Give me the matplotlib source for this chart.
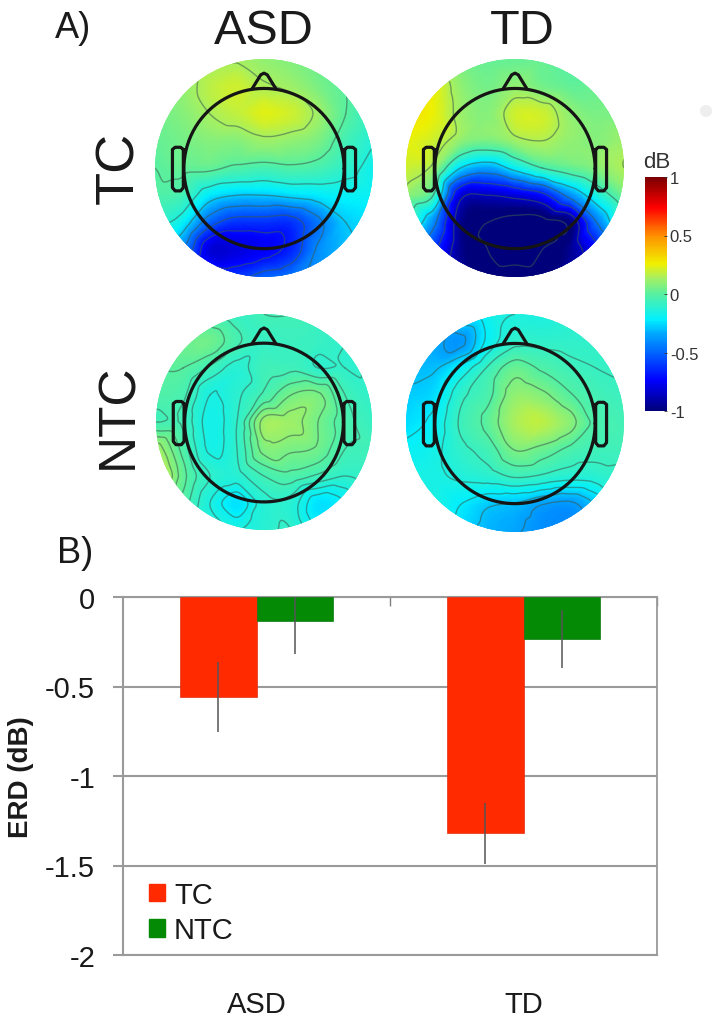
import matplotlib
matplotlib.use("Agg")
import matplotlib.pyplot as plt
import numpy as np
import matplotlib.tri as mtri
from matplotlib.colors import LinearSegmentedColormap, Normalize
from matplotlib.cm import ScalarMappable
from matplotlib.patches import Circle, Patch, Ellipse

plt.rcParams['font.family'] = ['Liberation Sans', 'DejaVu Sans']

W, H = 715, 1020

# ---------- data ----------
grid_pos = [1, .75, .5, .25, 0, -.25, -.5, -.75, -1]

asd_tc = [
    [.05, .08, .12, .13, .10, .07, .03, -.02, -.05],
    [.06, .10, .17, .20, .15, .12, .06, 0, -.08],
    [.04, .08, .14, .18, .23, .20, .12, 0, -.10],
    [.02, .05, .08, .08, .12, .10, .06, -.05, -.13],
    [0, .02, .02, -.02, -.04, -.02, -.04, -.10, -.18],
    [-.02, -.05, -.22, -.28, -.28, -.25, -.22, -.20, -.20],
    [-.10, -.20, -.50, -.62, -.62, -.62, -.45, -.28, -.25],
    [-.20, -.40, -.80, -.80, -.75, -.65, -.40, -.30, -.25],
    [-.30, -.45, -.55, -.60, -.50, -.45, -.38, -.30, -.25]]
td_tc = [
    [.20, .20, .05, .02, .02, .02, 0, 0, 0],
    [.30, .25, .10, .05, .10, .05, .02, .03, .05],
    [.30, .25, .12, .08, .20, .20, .10, .06, .06],
    [.25, .20, .10, .06, .12, .15, .10, .08, .12],
    [.20, .12, -.25, -.35, -.20, -.05, .02, .08, .15],
    [.10, -.05, -.80, -.85, -.80, -.70, -.40, -.15, .05],
    [-.05, -.40, -.95, -1.05, -1.1, -1.1, -1, -.45, -.05],
    [-.30, -.60, -.95, -1.05, -1.1, -1.05, -.95, -.70, -.30],
    [-.50, -.70, -.90, -1, -1, -1, -.90, -.80, -.50]]
asd_ntc = [
    [-.05, -.05, -.06, -.08, -.05, -.05, -.08, -.10, -.10],
    [.02, .03, .04, -.04, -.08, -.07, -.08, -.10, -.12],
    [.0, .0, -.06, -.12, -.06, -.06, -.10, -.10, -.10],
    [-.02, -.04, -.15, -.11, -.04, .05, .06, -.05, -.10],
    [-.05, -.06, -.17, -.10, .12, .12, .05, -.03, -.08],
    [.14, -.02, -.16, -.10, .07, .06, .04, -.05, -.06],
    [.25, .02, -.10, -.12, -.05, -.02, -.06, -.10, -.08],
    [.10, -.02, -.15, -.24, -.12, -.12, -.24, -.20, -.10],
    [0, -.05, -.10, -.15, -.12, -.10, -.20, -.15, -.10]]
td_ntc = [
    [-.20, -.20, -.20, -.18, -.15, -.15, -.12, -.12, -.10],
    [-.30, -.33, -.38, -.20, -.10, -.10, -.10, -.10, -.10],
    [-.30, -.30, -.20, -.07, .03, -.02, -.06, -.08, -.09],
    [-.28, -.25, -.10, -.03, .10, .08, 0, -.05, -.07],
    [-.25, -.20, -.07, .01, .14, .17, .09, -.03, -.05],
    [-.20, -.17, -.10, -.05, .06, .03, -.03, -.06, -.06],
    [-.15, -.16, -.14, -.12, -.08, -.10, -.13, -.12, -.10],
    [-.12, -.15, -.22, -.28, -.30, -.36, -.38, -.28, -.12],
    [-.10, -.15, -.25, -.32, -.35, -.40, -.40, -.30, -.15]]

groups = ['ASD', 'TD']
conditions = ['TC', 'NTC']
erd_tc = [-0.56, -1.32]
erd_ntc = [-0.135, -0.235]
err_tc = [0.195, 0.17]
err_ntc = [0.185, 0.16]
y_ticks = [0, -0.5, -1, -1.5, -2]
y_tick_labels = ['0', '-0.5', '-1', '-1.5', '-2']
cbar_ticks = [-1, -0.5, 0, 0.5, 1]
cbar_labels = ['-1', '-0.5', '0', '0.5', '1']

# ---------- style ----------
cmap = LinearSegmentedColormap.from_list('erd', [
    (0.00, '#00007a'), (0.13, '#0000ff'), (0.33, '#00a8ff'), (0.39, '#00f0ff'),
    (0.50, '#58f0a0'), (0.57, '#a8f060'), (0.63, '#f0f000'), (0.75, '#ff9000'),
    (0.87, '#ff0000'), (1.00, '#7a0000')])
norm = Normalize(-1, 1)


def px_axes(x0, y0, x1, y1):
    return fig.add_axes([x0 / W, 1 - y1 / H, (x1 - x0) / W, (y1 - y0) / H])


def topo(cx, cy, r, values, levels):
    ax = px_axes(cx - r, cy - r, cx + r, cy + r)
    ax.set_xlim(-1, 1)
    ax.set_ylim(-1, 1)
    ax.axis('off')
    X, Y = np.meshgrid(grid_pos[::-1], grid_pos)
    t = mtri.Triangulation(X.ravel(), Y.ravel())
    z = np.array(values).ravel()
    ref = mtri.UniformTriRefiner(t)
    tr, zr = ref.refine_field(z, mtri.CubicTriInterpolator(t, z, kind='geom'), subdiv=4)
    clip = Circle((0, 0), 1, transform=ax.transData)
    pc = ax.tripcolor(tr, zr, shading='gouraud', cmap=cmap, norm=norm)
    pc.set_clip_path(clip)
    cs = ax.tricontour(tr, zr, levels=levels, colors='#3a5a50',
                       linewidths=1.0, alpha=0.55, linestyles='solid')
    cs.set_clip_path(clip)
    # head outline
    hr = 0.735
    k = dict(color='#151515', lw=2.3, solid_capstyle='round', solid_joinstyle='round',
             zorder=5, clip_on=False)
    a = np.linspace(0, 2 * np.pi, 200)
    ax.plot(hr * np.cos(a), hr * np.sin(a) - 0.005, **k)
    ax.plot([-0.11, -0.03, 0, 0.03, 0.11], [hr - 0.01, 0.855, 0.87, 0.855, hr - 0.01], **k)
    for s in (-1, 1):
        ax.plot([s * 0.74, s * 0.74, s * 0.765, s * 0.815, s * 0.84, s * 0.84, s * 0.815, s * 0.765, s * 0.74],
                [0.17, -0.18, -0.21, -0.21, -0.18, 0.17, 0.19, 0.19, 0.17], **k)


fig = plt.figure(figsize=(W / 100, H / 100), dpi=100, facecolor='white')

topo(264, 169, 109, asd_tc, np.arange(-0.98, 0.15, 0.14))
topo(515, 169, 109, td_tc, np.arange(-1.05, 0.2, 0.2))
topo(264, 423, 108, asd_ntc, np.arange(-0.3, 0.3, 0.05))
topo(515, 424, 109, td_ntc, np.arange(-0.5, 0.13, 0.07))

tc = '#1a1a1a'
fig.text(55 / W, 1 - 28 / H, 'A)', fontsize=26, color=tc, ha='left', va='center')
fig.text(57 / W, 1 - 554 / H, 'B)', fontsize=26, color=tc, ha='left', va='center')
fig.text(264 / W, 1 - 32 / H, 'ASD', fontsize=35, color=tc, ha='center', va='center')
fig.text(522 / W, 1 - 32 / H, 'TD', fontsize=35, color=tc, ha='center', va='center')
fig.text(119 / W, 1 - 168 / H, 'TC', fontsize=39, color=tc, ha='center', va='center', rotation=90)
fig.text(119 / W, 1 - 416 / H, 'NTC', fontsize=37, color=tc, ha='center', va='center', rotation=90)

# colour bar
cax = px_axes(645, 178, 667, 412)
cb = fig.colorbar(ScalarMappable(norm=norm, cmap=cmap), cax=cax, ticks=cbar_ticks)
cb.ax.set_yticklabels(cbar_labels)
cb.ax.tick_params(labelsize=12, length=2, width=0.6, pad=2, direction='in', colors='#333333')
cb.outline.set_visible(False)
fig.text(657 / W, 1 - 163 / H, 'dB', fontsize=16, color='#333333', ha='center', va='center')

# bar chart
ax = px_axes(123, 598, 657, 956)
x = np.arange(len(groups))
bw = 0.286
grey = '#9a9a9a'
ax.set_axisbelow(True)
ax.yaxis.grid(True, color=grey, lw=1.5)
ax.bar(x - bw / 2, erd_tc, bw, color='#ff2a00', edgecolor='#e03010', lw=0.5, zorder=3)
ax.bar(x + bw / 2, erd_ntc, bw, color='#058a05', edgecolor='#0a7a10', lw=0.5, zorder=3)
ax.errorbar(x - bw / 2, erd_tc, yerr=err_tc, fmt='none', ecolor='#555555', elinewidth=1.1, zorder=4)
ax.errorbar(x + bw / 2, erd_ntc, yerr=err_ntc, fmt='none', ecolor='#555555', elinewidth=1.1, zorder=4)
ax.set_xlim(-0.5, 1.5)
ax.set_ylim(-2, 0)
ax.set_yticks(y_ticks)
ax.set_yticklabels(y_tick_labels)
ax.set_xticks(x)
ax.set_xticklabels(groups)
ax.tick_params(axis='y', length=7, width=1.5, color=grey, labelsize=21, pad=13, labelcolor='#1a1a1a')
ax.tick_params(axis='x', length=0, labelsize=21, pad=25, labelcolor='#1a1a1a')
fig.text(21 / W, 1 - 777 / H, 'ERD (dB)', fontsize=20, fontweight='bold', color='#1a1a1a',
         rotation=90, ha='center', va='center')
for s in ax.spines.values():
    s.set_color(grey)
    s.set_linewidth(1.5)
ax.spines['right'].set_linewidth(1.3)
ax.vlines([0.5, 1.5], -0.05, 0, color='#808080', lw=1.0, zorder=2, clip_on=False)
ax.legend(handles=[Patch(color='#ff2a00', label=conditions[0]), Patch(color='#058a05', label=conditions[1])],
          loc='lower left', bbox_to_anchor=(0.0, -0.043), frameon=False, fontsize=21,
          handlelength=0.55, handleheight=0.55, handletextpad=0.3, labelspacing=0.25, labelcolor='#1a1a1a')

# faint smudge in the source picture
fig.add_artist(Ellipse((706 / W, 1 - 112 / H), 12 / W, 12 / H, transform=fig.transFigure, color='#eeeeee', lw=0))

fig.savefig('out.png', dpi=100, facecolor='white')
